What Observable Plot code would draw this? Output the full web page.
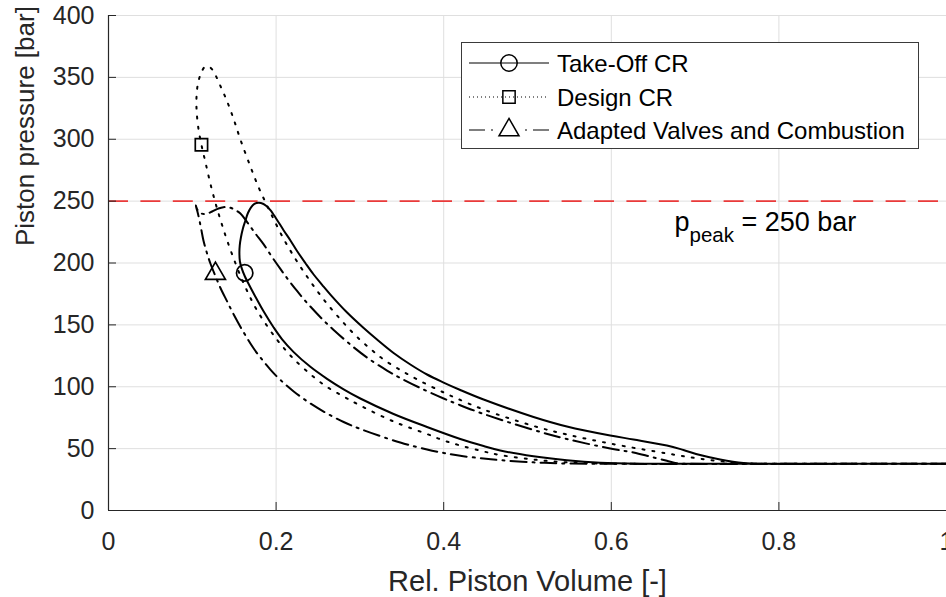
<!DOCTYPE html>
<html>
<head>
<meta charset="utf-8">
<script src="https://cdn.jsdelivr.net/npm/d3@7"></script>
<script src="https://cdn.jsdelivr.net/npm/@observablehq/plot@0.6"></script>
<style>
  html, body { margin: 0; padding: 0; background: #fff; }
  #chart { width: 946px; height: 597px; }
</style>
</head>
<body>
<div id="chart"></div>
<script>
// ---- data ----
const xTicks = [0, 0.2, 0.4, 0.6, 0.8, 1];
const yTicks = [0, 50, 100, 150, 200, 250, 300, 350, 400];
const xLabel = "Rel. Piston Volume [-]";
const yLabel = "Piston pressure [bar]";
const seriesNames = ["Take-Off CR", "Design CR", "Adapted Valves and Combustion"];
const peakPressure = 250;

// Take-Off CR (solid): compression from V=1, combustion, expansion back to V=1
const takeOffV = [1.0,0.825,0.706,0.6345,0.5868,0.5470,0.5072,0.4675,0.4476,0.4198,0.3801,0.3402,0.3005,0.2806,0.2608,0.2409,0.2210,0.2072,0.1971,0.1852,0.1753,0.1654,0.1628,0.1592,0.1568,0.1562,0.1566,0.1580,0.1604,0.1634,0.1664,0.1699,0.1741,0.1792,0.1843,0.1884,0.1932,0.2004,0.2091,0.2171,0.2250,0.2349,0.2448,0.2549,0.2648,0.2847,0.3045,0.3204,0.3402,0.3602,0.3801,0.3999,0.4198,0.4476,0.5072,0.5470,0.5987,0.6265,0.6663,0.6861,0.7060,0.7299,0.7577,0.7835,0.8849,1.0];
const takeOffP = [37.7,37.7,37.7,37.8,38.6,40.6,43.8,48.5,52.1,57.8,67.5,78.0,90.5,97.9,106.4,116.1,128.0,138.3,147.9,160.8,172.8,185.5,189.1,195.2,201.2,208.5,214.1,220.6,227.9,234.3,240.4,244.8,247.7,248.6,247.9,246.1,242.8,235.6,226.3,218.2,209.7,200.0,190.7,182.4,174.5,160.0,147.5,138.2,127.3,118.0,109.9,103.4,97.4,89.7,75.6,67.9,60.6,57.4,52.5,48.9,44.8,41.2,38.4,37.7,37.7,37.7];

// Design CR (dotted)
const designV = [1.0,0.7776,0.6225,0.5868,0.5470,0.5072,0.4675,0.4476,0.4198,0.3999,0.3801,0.3402,0.3005,0.2806,0.2608,0.2409,0.2210,0.2111,0.2012,0.1893,0.1773,0.1693,0.1634,0.1574,0.1515,0.1455,0.1395,0.1336,0.1276,0.1216,0.1157,0.1109,0.1073,0.1053,0.1049,0.1058,0.1082,0.1115,0.1157,0.1205,0.1246,0.1282,0.1336,0.1416,0.1491,0.1574,0.1693,0.1792,0.1872,0.1952,0.2091,0.2250,0.2409,0.2568,0.2767,0.2966,0.3148,0.3283,0.3494,0.3721,0.3999,0.4159,0.4476,0.5072,0.5470,0.5987,0.6663,0.7060,0.7457,0.7776,0.8849,1.0];
const designP = [37.7,37.7,37.7,38.0,38.9,41.2,44.8,47.7,52.5,56.6,61.8,71.9,84.8,92.1,99.8,110.1,122.5,129.8,137.9,149.1,161.6,171.9,180.4,189.7,199.8,210.7,222.4,234.9,248.6,264.0,281.4,295.5,308.7,321.6,331.3,341.0,349.1,355.2,358.8,358.4,355.6,351.1,343.0,330.5,316.8,299.8,278.0,261.0,249.3,238.0,219.4,201.2,185.1,170.5,154.5,140.2,129.3,122.0,113.1,104.6,95.4,90.5,81.6,68.3,61.4,54.1,46.1,41.8,38.8,37.7,37.7,37.7];

// Adapted Valves and Combustion (dash-dot)
const adaptedV = [1.0,0.825,0.6106,0.5470,0.5072,0.4675,0.4476,0.4198,0.3999,0.3801,0.3482,0.3005,0.2806,0.2608,0.2409,0.2210,0.2051,0.1932,0.1813,0.1733,0.1614,0.1494,0.1416,0.1336,0.1276,0.1216,0.1169,0.1133,0.1107,0.1083,0.1061,0.1041,0.1067,0.1109,0.1163,0.1237,0.1312,0.1371,0.1431,0.1491,0.1574,0.1654,0.1753,0.1852,0.1952,0.2051,0.2147,0.2250,0.2349,0.2448,0.2568,0.2687,0.2886,0.3085,0.3324,0.3482,0.3721,0.3999,0.4159,0.4476,0.5072,0.5470,0.5987,0.6265,0.6464,0.6663,0.6782,0.6941,0.825,1.0];
const adaptedP = [37.7,37.7,37.7,38.0,38.9,40.7,42.0,44.2,46.5,49.3,54.9,65.9,71.5,78.4,86.5,96.2,105.5,113.9,123.6,130.9,143.8,158.4,168.9,179.8,189.5,199.6,209.3,218.2,227.1,235.2,241.6,246.5,242.4,240.0,239.6,241.6,244.0,245.1,245.0,243.6,240.0,233.1,223.8,215.0,204.8,195.2,186.3,177.4,169.3,162.0,153.5,145.9,134.1,123.6,113.1,107.1,99.0,90.5,86.1,78.0,65.1,57.8,50.1,46.9,43.6,40.2,38.2,37.7,37.7,37.7];

// one marker per series (V, p)
const markerTakeOff = [0.1625, 192.0];
const markerDesign = [0.1109, 295.5];
const markerAdapted = [0.1276, 191.4];

// ---- build tables ----
const toRows = (V, P) => V.map((v, i) => ({v, p: P[i]}));
const takeOff = toRows(takeOffV, takeOffP);
const design = toRows(designV, designP);
const adapted = toRows(adaptedV, adaptedP);

const W = 946, H = 597, mL = 108, mR = 0, mT = 15, mB = 87;
const innerW = W - mL - mR, innerH = H - mT - mB;
const FONT = "'Liberation Sans', Arial, Helvetica, sans-serif";
const AXIS = "#262626";

const dashPatterns = {dotted: "2,8", dashdot: "16,6,2,6"};
const markerSizes = {circle: 8.2, square: 6.94, triangle: 7.42};

const plot = Plot.plot({
  width: W, height: H,
  marginLeft: mL, marginRight: mR, marginTop: mT, marginBottom: mB,
  style: {fontFamily: FONT, background: "#fff", overflow: "visible"},
  x: {domain: [0, 1]},
  y: {domain: [0, 400]},
  marks: [
    Plot.gridX(xTicks, {stroke: "#dfdfdf", strokeOpacity: 1, strokeWidth: 1}),
    Plot.gridY(yTicks, {stroke: "#dfdfdf", strokeOpacity: 1, strokeWidth: 1}),
    Plot.ruleY([peakPressure], {stroke: "#ea3a3a", strokeWidth: 1.6, strokeDasharray: "20,12.4"}),
    Plot.line(takeOff, {x: "v", y: "p", stroke: "#000", strokeWidth: 2, curve: "catmull-rom"}),
    Plot.line(design, {x: "v", y: "p", stroke: "#000", strokeWidth: 2, curve: "catmull-rom", strokeDasharray: dashPatterns.dotted}),
    Plot.line(adapted, {x: "v", y: "p", stroke: "#000", strokeWidth: 2, curve: "catmull-rom", strokeDasharray: dashPatterns.dashdot}),
    Plot.dot([markerTakeOff], {x: d => d[0], y: d => d[1], symbol: "circle", r: markerSizes.circle, stroke: "#000", strokeWidth: 1.7, fill: "none"}),
    Plot.dot([markerDesign], {x: d => d[0], y: d => d[1], symbol: "square", r: markerSizes.square, stroke: "#000", strokeWidth: 1.7, fill: "none"}),
    Plot.dot([markerAdapted], {x: d => d[0], y: d => d[1], symbol: "triangle", r: markerSizes.triangle, stroke: "#000", strokeWidth: 1.7, fill: "none"}),
    // inward ticks
    Plot.tickX(xTicks, {x: d => d, stroke: AXIS, strokeWidth: 1, insetTop: innerH - 8}),
    Plot.tickY(yTicks, {y: d => d, stroke: AXIS, strokeWidth: 1, insetRight: innerW - 8}),
    Plot.ruleX([0], {stroke: AXIS, strokeWidth: 1.2}),
    Plot.ruleY([0], {stroke: AXIS, strokeWidth: 1.2}),
    Plot.axisX(xTicks, {tickSize: 0, tickPadding: 21.5, fontSize: 25, fill: AXIS, tickFormat: d => String(d), label: null}),
    Plot.axisY(yTicks, {tickSize: 0, tickPadding: 14, fontSize: 25, fill: AXIS, tickFormat: d => String(d), label: null}),
    Plot.text([xLabel], {text: d => d, frameAnchor: "bottom", dy: 80, fontSize: 29, lineAnchor: "bottom", fill: AXIS}),
    Plot.text([yLabel], {text: d => d, frameAnchor: "left", rotate: -90, dx: -75, dy: -17, fontSize: 26, lineAnchor: "bottom", fill: AXIS})
  ]
});

document.getElementById("chart").appendChild(plot);

// ---- annotation: p_peak = 250 bar ----
const svg = d3.select(plot);
const sx = plot.scale("x"), sy = plot.scale("y");
const ann = svg.append("text")
  .attr("x", sx.apply(0.676)).attr("y", sy.apply(225.5))
  .attr("text-anchor", "start")
  .attr("font-family", FONT).attr("font-size", 27).attr("fill", "#000")
  .style("white-space", "pre");
ann.append("tspan").text("p");
ann.append("tspan").attr("dy", 11).attr("font-size", 20.5).text("peak");
ann.append("tspan").attr("dy", -11).text(" = " + peakPressure + " bar");

// ---- legend ----
const lg = svg.append("g").attr("font-family", FONT).attr("text-anchor", "start");
lg.append("rect").attr("x", 461.5).attr("y", 42.5).attr("width", 457).attr("height", 106)
  .attr("fill", "#fff").attr("stroke", "#3a3a3a").attr("stroke-width", 1);
const rowsY = [63, 97, 130];
const x0 = 469, x1 = 549, xm = 509;
const symTypes = [d3.symbolCircle, d3.symbolSquare, d3.symbolTriangle];
const symR = [markerSizes.circle, markerSizes.square, markerSizes.triangle];
const legendDash = [null, "1,3", "16,6,2,6"];
seriesNames.forEach((name, i) => {
  const y = rowsY[i];
  if (i === 2) {
    lg.append("path").attr("d", `M${x0},${y}H${xm - 10}`).attr("stroke", "#000").attr("stroke-width", 1.2).attr("stroke-dasharray", legendDash[i]);
    lg.append("path").attr("d", `M${x1},${y}H${xm + 10}`).attr("stroke", "#000").attr("stroke-width", 1.2).attr("stroke-dasharray", legendDash[i]);
  } else {
    lg.append("path").attr("d", `M${x0},${y}H${x1}`).attr("stroke", "#000").attr("stroke-width", 1.2)
      .attr("stroke-dasharray", legendDash[i]);
  }
  lg.append("path").attr("transform", `translate(${xm},${y})`)
    .attr("d", d3.symbol().type(symTypes[i]).size(Math.PI * symR[i] * symR[i])())
    .attr("fill", "none").attr("stroke", "#000").attr("stroke-width", 1.5);
  lg.append("text").attr("x", 557).attr("y", y + 8.7).attr("font-size", 24).attr("fill", "#000").text(name);
});
</script>
</body>
</html>
